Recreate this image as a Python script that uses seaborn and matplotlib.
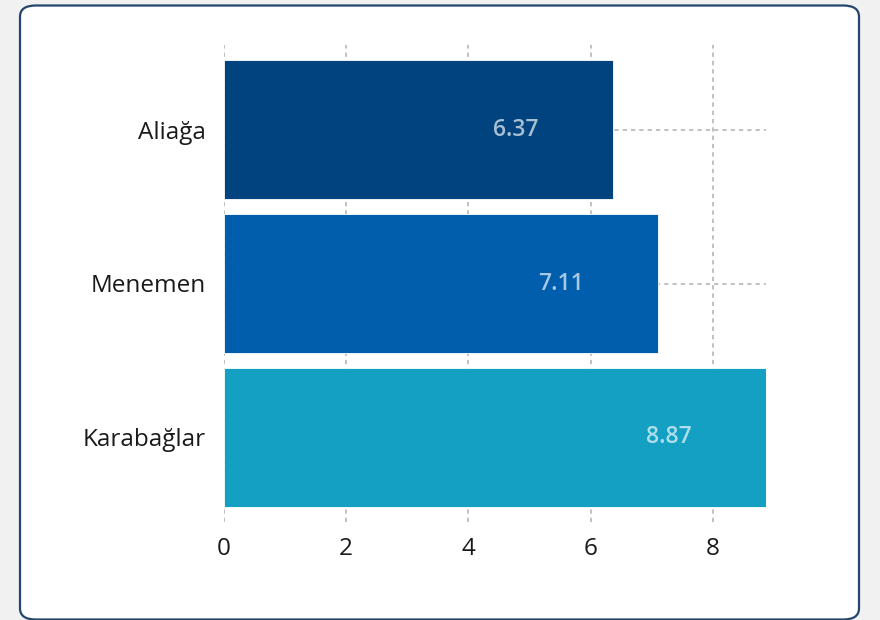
import matplotlib
matplotlib.use("Agg")
import matplotlib.pyplot as plt
import seaborn as sns
import pandas as pd
from matplotlib.patches import FancyBboxPatch

categories = ["Aliağa", "Menemen", "Karabağlar"]
values = [6.37, 7.11, 8.87]
colors = ["#00437f", "#005ead", "#13a0c3"]
xticks = [0, 2, 4, 6, 8]

sns.set_theme(style="white")
plt.rcParams["font.family"] = ["Open Sans", "DejaVu Sans"]

df = pd.DataFrame({"district": categories, "value": values})

fig = plt.figure(figsize=(8.8, 6.2), dpi=100)
fig.patch.set_facecolor("#f1f1f1")

# card background
card = FancyBboxPatch((20 / 880, 0.5 / 620), 839 / 880, 614 / 620,
                      boxstyle="round,pad=0,rounding_size=0.018",
                      transform=fig.transFigure, facecolor="white",
                      edgecolor="#23466c", linewidth=1.6, zorder=-5)
fig.patches.append(card)

ax = fig.add_axes([224 / 880, 1 - 522 / 620, (766 - 224) / 880, (522 - 45) / 620])
ax.set_zorder(2)
ax.set_facecolor("none")

sns.barplot(data=df, x="value", y="district", hue="district", palette=colors,
            orient="h", width=0.9, ax=ax, legend=False, saturation=1,
            edgecolor="#ffffff", linewidth=0.6)

ax.set_xlim(0, 8.87)
ax.set_ylim(2.55, -0.55)
ax.set_xticks(xticks)
ax.set_xticklabels([str(t) for t in xticks])
ax.set_xlabel("")
ax.set_ylabel("")
ax.set_axisbelow(True)
ax.grid(True, axis="both", color="#bcbcbc", linestyle=(0, (2.4, 2.2)), linewidth=1.3)
for s in ax.spines.values():
    s.set_visible(False)
ax.tick_params(axis="both", length=0, labelsize=17.5, colors="#1a1a1a")
ax.tick_params(axis="x", pad=11)
ax.tick_params(axis="y", pad=13)

for i, v in enumerate(values):
    ax.annotate(f"{v:.2f}", xy=(v, i), xytext=(-70, 0), textcoords="offset points",
                ha="center", va="center", fontsize=16.5, fontweight="semibold",
                color="white", alpha=0.66)

fig.savefig("out.png", dpi=100, facecolor=fig.get_facecolor())
